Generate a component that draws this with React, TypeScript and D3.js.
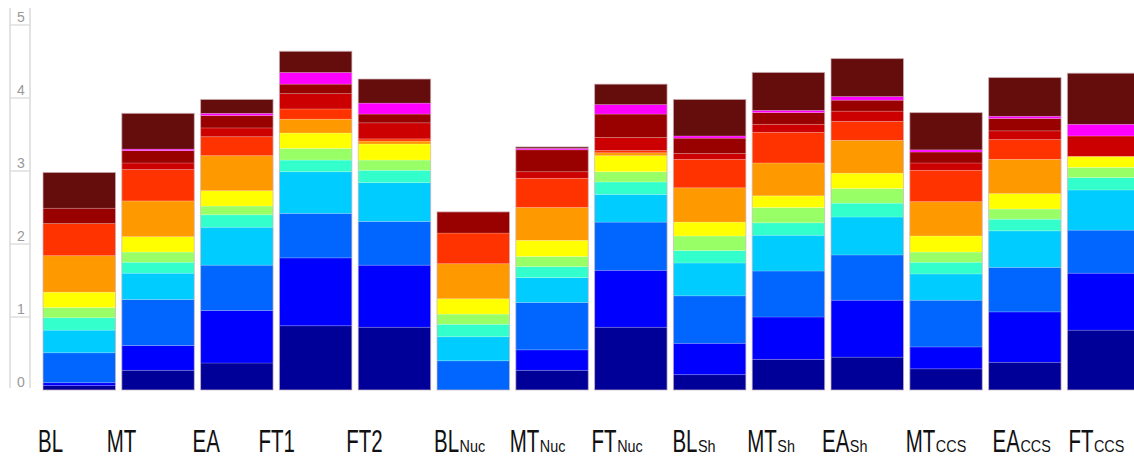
import React from "react";
import * as d3 from "d3";

// ---- data ----
const categories = ["BL", "MT", "EA", "FT1", "FT2", "BL", "MT", "FT", "BL", "MT", "EA", "MT", "EA", "FT"];
const subscripts = ["", "", "", "", "", "Nuc", "Nuc", "Nuc", "Sh", "Sh", "Sh", "CCS", "CCS", "CCS"];
const yTicks = [0, 1, 2, 3, 4, 5];

const navy = [0.06, 0.27, 0.37, 0.88, 0.86, 0, 0.27, 0.86, 0.21, 0.42, 0.45, 0.29, 0.38, 0.82];
const blue = [0.04, 0.34, 0.72, 0.93, 0.85, 0, 0.28, 0.78, 0.43, 0.58, 0.78, 0.3, 0.69, 0.78];
const azure = [0.41, 0.63, 0.62, 0.61, 0.6, 0.4, 0.65, 0.66, 0.65, 0.63, 0.62, 0.64, 0.61, 0.59];
const cyan = [0.31, 0.36, 0.52, 0.57, 0.53, 0.33, 0.34, 0.38, 0.45, 0.49, 0.52, 0.36, 0.5, 0.55];
const aqua = [0.17, 0.15, 0.17, 0.16, 0.17, 0.17, 0.15, 0.17, 0.17, 0.17, 0.19, 0.16, 0.16, 0.17];
const lime = [0.14, 0.14, 0.12, 0.16, 0.14, 0.14, 0.14, 0.14, 0.2, 0.21, 0.2, 0.14, 0.14, 0.14];
const yellow = [0.21, 0.21, 0.21, 0.21, 0.22, 0.21, 0.22, 0.22, 0.19, 0.16, 0.21, 0.22, 0.21, 0.15];
const orange = [0.5, 0.49, 0.48, 0.19, 0.04, 0.48, 0.45, 0.04, 0.47, 0.45, 0.45, 0.47, 0.47, 0];
const redOrange = [0.44, 0.43, 0.26, 0.14, 0.03, 0.42, 0.4, 0.03, 0.39, 0.42, 0.26, 0.43, 0.27, 0];
const red = [0, 0.09, 0.12, 0.21, 0.22, 0, 0.09, 0.18, 0.08, 0.11, 0.14, 0.1, 0.12, 0.28];
const darkRed = [0.21, 0.17, 0.17, 0.13, 0.12, 0.29, 0.3, 0.32, 0.21, 0.16, 0.15, 0.15, 0.17, 0];
const magenta = [0, 0.02, 0.03, 0.16, 0.15, 0, 0.02, 0.13, 0.03, 0.03, 0.05, 0.03, 0.03, 0.16];
const brown = [0.49, 0.49, 0.19, 0.29, 0.33, 0, 0.02, 0.28, 0.5, 0.52, 0.52, 0.51, 0.53, 0.7];

const layers = [
  { key: "navy", values: navy, color: "#000099" },
  { key: "blue", values: blue, color: "#0000ff" },
  { key: "azure", values: azure, color: "#0066ff" },
  { key: "cyan", values: cyan, color: "#00ccff" },
  { key: "aqua", values: aqua, color: "#33ffcc" },
  { key: "lime", values: lime, color: "#99ff66" },
  { key: "yellow", values: yellow, color: "#ffff00" },
  { key: "orange", values: orange, color: "#ff9900" },
  { key: "redOrange", values: redOrange, color: "#ff3300" },
  { key: "red", values: red, color: "#cc0000" },
  { key: "darkRed", values: darkRed, color: "#990000" },
  { key: "magenta", values: magenta, color: "#ff00ff" },
  { key: "brown", values: brown, color: "#650c0c" },
];

// layout: horizontal nudge of each category label relative to its bar's left edge (px)
const labelNudge = [-5, -15, -8, -21, -12, -3, -6, -3, -1, -5, -9, -4, 4, 1];

// Liberation Sans advance widths (per 1000 em)
const W: Record<string, number> = {
  B: 667, L: 556, M: 833, T: 611, E: 667, A: 667, F: 611, "1": 556, "2": 556,
  N: 722, u: 556, c: 500, S: 667, h: 556, C: 722,
};
const textW = (s: string, size: number) => s.split("").reduce((a, ch) => a + (W[ch] || 600), 0) * size / 1000;

export default function App() {
  const width = 1134;
  const height = 458;
  const FONT = "'Liberation Sans', Arial, sans-serif";

  const table = categories.map((c, i) => {
    const row: Record<string, number> = {};
    layers.forEach((l) => (row[l.key] = l.values[i]));
    return row;
  });
  const stacked = d3.stack<Record<string, number>>().keys(layers.map((l) => l.key))(table);

  const idx = categories.map((_, i) => String(i));
  const step = 78.8;
  const x = d3
    .scaleBand<string>()
    .domain(idx)
    .range([43, 43 + step * (idx.length - 0.08)])
    .paddingInner(0.08)
    .paddingOuter(0);
  const y = d3.scaleLinear().domain([0, 5]).range([390, 25]);

  const mainSize = 32;
  const mainSx = 0.64;
  const subSize = 16;
  const subSx = 0.9;
  const labelBaseline = 451.5;

  return (
    <svg
      width={width}
      height={height}
      style={{ position: "absolute", left: 0, top: 0, background: "#fff" }}
    >
      {/* y axis ruler */}
      <line x1={10} x2={10} y1={8} y2={388} stroke="#dcdcdc" strokeWidth={1.6} />
      <line x1={30} x2={30} y1={8} y2={388} stroke="#dcdcdc" strokeWidth={1.6} />
      {yTicks.map((t) => (
        <g key={t}>
          {t > 0 && (
            <line x1={10} x2={30} y1={y(t)} y2={y(t)} stroke="#dcdcdc" strokeWidth={1.4} />
          )}
          <text x={17} y={y(t) - 3} fontSize={14} fill="#999" fontFamily={FONT}>
            {t}
          </text>
        </g>
      ))}

      {/* bars */}
      {stacked.map((series, li) => (
        <g key={series.key} fill={layers[li].color}>
          {series.map((d, i) =>
            d[1] - d[0] > 0 ? (
              <rect
                key={i}
                x={x(String(i))}
                width={x.bandwidth()}
                y={y(d[1])}
                height={y(d[0]) - y(d[1])}
                stroke="#ffffff"
                strokeOpacity={0.22}
                strokeWidth={0.8}
              />
            ) : null
          )}
        </g>
      ))}
      {/* bar outlines */}
      {table.map((_, i) => {
        const top = stacked[stacked.length - 1][i][1];
        return (
          <rect
            key={"o" + i}
            x={x(String(i))}
            width={x.bandwidth()}
            y={y(top)}
            height={y(0) - y(top)}
            fill="none"
            stroke="#c8a8b0"
            strokeOpacity={0.6}
            strokeWidth={1}
          />
        );
      })}

      {/* category labels */}
      {categories.map((c, i) => {
        const lx = (x(String(i)) as number) + labelNudge[i];
        const mw = textW(c, mainSize) * mainSx;
        return (
          <g key={"l" + i} fontFamily={FONT} fill="#111">
            <text transform={`translate(${lx},${labelBaseline}) scale(${mainSx},1)`} fontSize={mainSize}>
              {c}
            </text>
            {subscripts[i] && (
              <text
                transform={`translate(${lx + mw + 0.5},${labelBaseline}) scale(${subSx},1)`}
                fontSize={subSize}
              >
                {subscripts[i]}
              </text>
            )}
          </g>
        );
      })}
    </svg>
  );
}
